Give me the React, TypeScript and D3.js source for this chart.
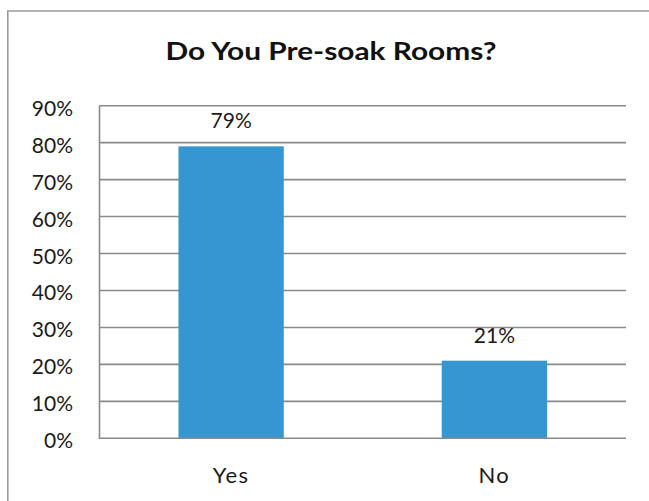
import React from "react";
import * as d3 from "d3";

const title = "Do You Pre-soak Rooms?";
const categories = ["Yes", "No"];
const values = [79, 21];
const yTicks = [0, 10, 20, 30, 40, 50, 60, 70, 80, 90];

const W = 649;
const H = 501;
const FONT = "Lato, 'Open Sans', sans-serif";

export default function App() {
  const x = d3
    .scaleBand<string>()
    .domain(categories)
    .range([99.5, 626])
    .paddingInner(0.6)
    .paddingOuter(0.3);
  const y = d3.scaleLinear().domain([0, 90]).range([438.3, 105.7]);
  const grid = "#8a8a8a";

  return (
    <svg
      width={W}
      height={H}
      style={{ position: "fixed", left: 0, top: 0, background: "#fff", display: "block" }}
    >
      <rect x={0} y={0} width={W} height={H} fill="#fff" />
      {/* outer frame */}
      <line x1={7.8} x2={7.8} y1={11} y2={H} stroke="#9a9a9a" strokeWidth={1.6} />
      <line x1={7} x2={W} y1={11} y2={11} stroke="#9a9a9a" strokeWidth={1.6} />
      <text
        x={331}
        y={60}
        textAnchor="middle"
        fontFamily={FONT}
        fontWeight="bold"
        fontSize={24}
        fill="#111"
        textLength={331}
        lengthAdjust="spacingAndGlyphs"
      >
        {title}
      </text>
      {yTicks.map((t) => (
        <g key={t}>
          {t > 0 && (
            <line
              x1={99.5}
              x2={626}
              y1={y(t)}
              y2={y(t)}
              stroke={grid}
              strokeWidth={1.6}
            />
          )}
          <text
            x={73}
            y={y(t) + 10}
            textAnchor="end"
            fontFamily={FONT}
            fontSize={21}
            fill="#1a1a1a"
          >
            {t}%
          </text>
        </g>
      ))}
      {categories.map((c, i) => (
        <g key={c}>
          <rect
            x={x(c)}
            y={y(values[i])}
            width={x.bandwidth()}
            height={y(0) - y(values[i])}
            fill="#3596d2"
          />
          <text
            x={(x(c) as number) + x.bandwidth() / 2}
            y={y(values[i]) - 18}
            textAnchor="middle"
            fontFamily={FONT}
            fontSize={21}
            fill="#1a1a1a"
          >
            {values[i]}%
          </text>
          <text
            x={(x(c) as number) + x.bandwidth() / 2}
            y={483}
            textAnchor="middle"
            fontFamily={FONT}
            fontSize={22}
            letterSpacing={1.5}
            fill="#1a1a1a"
          >
            {c}
          </text>
        </g>
      ))}
      {/* axes */}
      <line x1={99.5} x2={99.5} y1={105.7} y2={439} stroke={grid} strokeWidth={1.6} />
      <line x1={99} x2={626} y1={438.3} y2={438.3} stroke={grid} strokeWidth={1.6} />
    </svg>
  );
}
